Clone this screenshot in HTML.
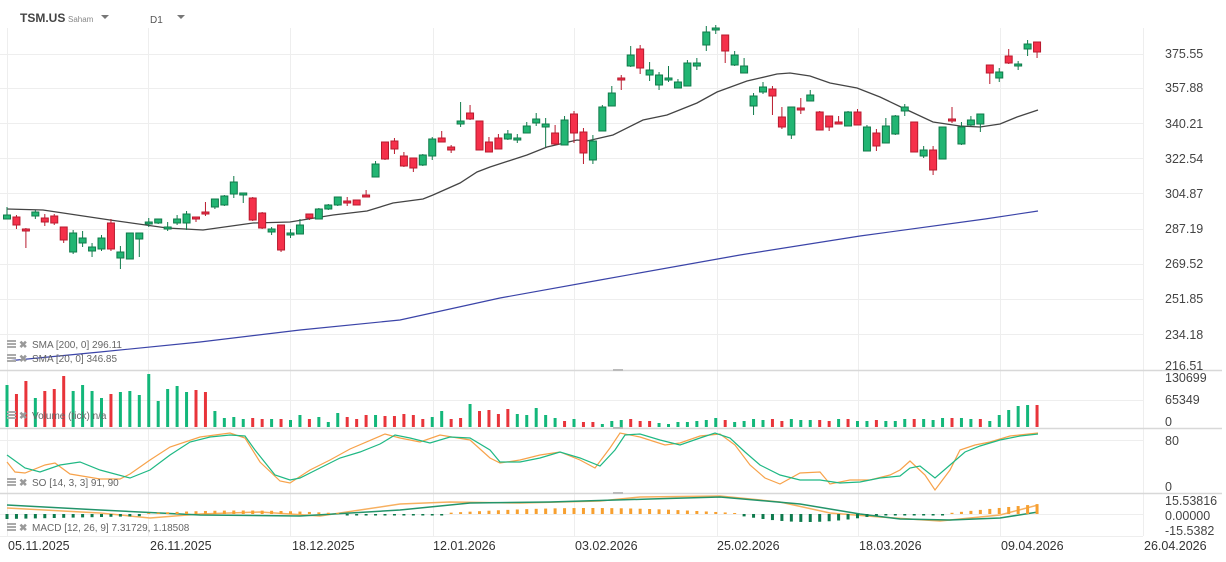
<!DOCTYPE html>
<html><head><meta charset="utf-8"><style>
html,body{margin:0;padding:0;background:#fff;width:1226px;height:562px;overflow:hidden}
svg{display:block;font-family:"Liberation Sans",sans-serif}
</style></head><body>
<svg id="s" width="1226" height="562" viewBox="0 0 1226 562" xmlns="http://www.w3.org/2000/svg">
<g stroke="#eeeeee" stroke-width="1" id="grid"></g>
<g id="lines"></g>
<g id="cand"></g>
<g id="txt"></g>
</svg>
<script>
const NS="http://www.w3.org/2000/svg";
function el(p,t,a,txt){const e=document.createElementNS(NS,t);for(const k in a)e.setAttribute(k,a[k]);if(txt!==undefined)e.textContent=txt;document.getElementById(p).appendChild(e);return e;}
// grid
[54,88,123,158,193,229,264,299,334].forEach(y=>el('grid','line',{x1:0,x2:1143,y1:y+.5,y2:y+.5}));
[400,440,514,536].forEach(y=>el('grid','line',{x1:0,x2:1143,y1:y+.5,y2:y+.5}));
[7,148,290,433,574,717,858,1000,1143].forEach(x=>el('grid','line',{x1:x+.5,x2:x+.5,y1:28,y2:536}));
[370,428,493].forEach(y=>el('lines','line',{x1:0,x2:1222,y1:y+.5,y2:y+.5,stroke:'#d8d8d8','stroke-width':1.5}));
[370,428,493].forEach(y=>el('lines','rect',{x:613,y:y-1,width:10,height:2,fill:'#bbb'}));
// SMA200
el('lines','polyline',{points:'7,361 100,352 200,342 300,330 400,320 500,298 600,280 740,255 860,236 985,219 1038,211',fill:'none',stroke:'#3b44a8','stroke-width':1.2});
// SMA20
el('lines','polyline',{points:'7,209 43,210 110,220 167,228 203,230 253,223 290,222 333,215 367,211 393,203 423,199 433,195 460,183 477,172 490,167 527,155 547,147 577,140 587,141 613,135 643,120 667,115 697,103 717,92 747,81 760,78 777,74 790,73 810,76 830,83 857,88 880,97 903,108 933,122 960,126 980,127 1000,124 1017,117 1038,110',fill:'none',stroke:'#444','stroke-width':1.3});
// candles: [bodyTop, bodyBot, wickTop, wickBot, g/r]
const C=[[215,219,207,219,'g'],[217,225,215,229,'r'],[229,231,228,248,'r'],[212,216,210,219,'g'],[218,222,214,226,'r'],[216,223,214,225,'r'],[227,240,227,243,'r'],[233,252,230,254,'g'],[238,243,231,247,'g'],[247,251,243,257,'g'],[238,249,235,251,'g'],[223,249,219,251,'r'],[252,258,246,269,'g'],[233,259,233,259,'g'],[233,239,233,257,'g'],[222,224,218,227,'g'],[219,223,219,224,'g'],[227,229,222,231,'g'],[219,223,215,225,'g'],[214,223,211,230,'g'],[217,219,217,222,'r'],[212,214,202,216,'r'],[199,207,199,209,'g'],[196,205,195,206,'g'],[182,194,176,198,'g'],[193,195,193,203,'g'],[198,220,197,221,'r'],[213,228,212,229,'r'],[229,232,227,235,'g'],[225,250,225,252,'r'],[233,235,229,238,'g'],[225,234,219,234,'g'],[214,218,214,220,'r'],[209,219,208,219,'g'],[205,209,204,210,'g'],[197,205,197,206,'g'],[201,203,197,206,'r'],[200,205,200,205,'r'],[195,197,190,197,'r'],[164,177,161,177,'g'],[142,159,142,160,'r'],[141,149,138,154,'r'],
[156,166,152,167,'r'],[158,168,158,172,'r'],[155,165,154,166,'g'],[139,156,137,160,'g'],[138,142,131,142,'r'],[147,150,145,153,'r'],[121,124,102,127,'g'],[113,119,105,120,'r'],[121,150,121,150,'r'],[142,152,137,152,'r'],[138,149,134,149,'r'],[134,139,130,140,'g'],[138,140,134,143,'g'],[126,133,122,133,'g'],[119,123,113,126,'g'],[124,127,118,147,'g'],[133,144,125,145,'r'],[120,145,116,145,'g'],[114,133,111,143,'r'],[132,153,128,164,'r'],[141,160,135,164,'g'],[107,131,105,131,'g'],[93,106,86,106,'g'],[78,80,75,90,'r'],[55,66,46,67,'g'],[49,68,45,74,'r'],[70,75,62,81,'g'],[75,85,72,90,'g'],[78,80,66,82,'g'],[82,88,79,88,'g'],[63,86,60,86,'g'],[63,66,58,70,'g'],[32,45,26,51,'g'],[28,30,25,34,'g'],[35,51,35,63,'r'],[55,65,51,66,'g'],[66,73,58,73,'g'],[96,106,93,115,'g'],
[87,92,82,94,'g'],[89,96,86,115,'r'],[117,127,107,129,'r'],[107,135,107,139,'g'],[108,110,98,114,'r'],[95,101,90,101,'g'],[112,130,111,130,'r'],[116,127,116,131,'r'],[122,124,116,124,'r'],[112,126,111,126,'g'],[112,125,109,125,'r'],[127,151,125,151,'g'],[133,146,129,151,'r'],[126,143,118,143,'g'],[116,134,115,135,'g'],[107,111,104,116,'g'],[122,152,122,152,'r'],[150,156,146,158,'g'],[150,170,146,175,'r'],[127,159,127,159,'g'],[119,121,107,123,'r'],[127,144,122,145,'g'],[120,125,116,126,'g'],[114,124,114,132,'g'],[65,73,65,84,'r'],[72,78,68,82,'g'],[56,63,49,64,'r'],[64,66,61,70,'g'],[44,49,40,56,'g'],[42,52,42,58,'r']];
const X=i=>7+i*9.45;
C.forEach((c,i)=>{const x=X(i);const g=c[4]=='g';
 const fill=g?'#22b573':'#f5304a', st=g?'#0f7a4a':'#b81a2e';
 el('cand','line',{x1:x,x2:x,y1:c[2],y2:c[3],stroke:st,'stroke-width':1});
 el('cand','rect',{x:x-3.5,y:c[0],width:7,height:Math.max(c[1]-c[0],1.5),fill:fill,stroke:st,'stroke-width':1});});
// volume
const V=[[385,'g'],[394,'r'],[381,'r'],[398,'g'],[391,'r'],[389,'r'],[376,'r'],[391,'g'],[385,'g'],[391,'g'],[398,'g'],[394,'r'],[392,'g'],[391,'g'],[395,'g'],[374,'g'],[401,'g'],[389,'g'],[386,'g'],[392,'g'],[390,'r'],[392,'r'],[411,'g'],[418,'g'],[417,'g'],[419,'g'],[418,'r'],[419,'r'],[419,'g'],[419,'r'],[420,'g'],[415,'g'],[419,'r'],[417,'g'],[422,'g'],[413,'g'],[417,'r'],[419,'r'],[415,'r'],[415,'g'],[416,'r']];
const V2=[[416,'r'],[414,'r'],[415,'r'],[419,'r'],[417,'g'],[411,'g'],[419,'r'],[418,'r'],[404,'g'],[411,'r'],[410,'r'],[414,'r'],[409,'r'],[414,'g'],[415,'g'],[408,'g'],[415,'g'],[418,'g'],[421,'r'],[419,'g'],[422,'r'],[422,'r'],[424,'g'],[421,'g'],[420,'g'],[419,'r'],[421,'r'],[421,'r'],[423,'g'],[424,'g'],[422,'g'],[422,'g'],[421,'g'],[420,'g'],[418,'g'],[420,'r'],[422,'g'],[421,'g'],[419,'g'],[420,'g'],[419,'r'],[421,'r'],[419,'g'],[420,'g'],[420,'g'],[420,'r'],[421,'r'],[419,'g'],[419,'r'],[421,'g'],[421,'g'],[420,'r'],[421,'g'],[421,'g'],[419,'g'],[419,'r'],[419,'g'],[420,'g'],[418,'g'],[418,'r'],[418,'g'],[419,'g'],[419,'r'],[421,'g'],[415,'g'],[416,'g'],[413,'r'],[416,'g'],[409,'r']];
const VV=V.concat(V2.slice(0,110-V.length-4)).concat([[410,'g'],[406,'g'],[405,'g'],[405,'r']]);
VV.forEach((v,i)=>{if(i>=110)return;el('cand','rect',{x:X(i)-1.5,y:v[0],width:3,height:427-v[0],fill:v[1]=='g'?'#13b77a':'#e8343a'});});
// SO
el('lines','polyline',{points:'7,462 15,472 25,473 45,465 55,463 70,474 100,479 120,479 130,474 150,460 170,447 200,437 230,433 245,438 260,462 280,481 290,483 310,470 330,460 350,449 385,434 400,438 420,442 440,435 470,440 490,458 500,463 520,460 540,455 560,452 580,460 595,468 610,448 620,433 640,437 665,445 680,443 700,436 720,434 735,445 750,465 765,478 780,484 800,473 820,472 830,484 850,480 870,480 890,475 900,470 910,461 925,475 935,490 950,470 960,450 975,445 990,442 1010,436 1038,433',fill:'none',stroke:'#f7a24a','stroke-width':1.2});
el('lines','polyline',{points:'7,455 25,468 40,472 60,465 80,462 100,470 130,478 150,470 170,455 190,442 210,437 230,435 245,436 255,450 275,475 290,480 300,478 320,468 340,458 360,452 380,444 395,435 410,438 430,443 450,437 470,438 490,450 500,462 520,462 540,458 560,452 580,458 600,466 615,450 625,435 640,434 660,440 680,445 700,438 715,433 730,438 745,452 760,465 780,475 800,480 820,480 840,483 860,482 880,478 900,476 910,468 920,466 935,478 950,465 965,452 980,446 1000,440 1020,436 1038,434',fill:'none',stroke:'#1fb884','stroke-width':1.2});
// MACD histogram
for(let i=0;i<110;i++){const x=X(i);let h;
 if(x<140)h=5-i*0.2; else if(x<345)h=-(Math.sin((x-140)/205*Math.PI)*3+0.5); else if(x<445)h=1.5;
 else if(x<735)h=-(Math.sin((x-445)/290*Math.PI)*5+1); else if(x<880)h=Math.sin((x-735)/145*Math.PI)*7+1; else if(x<950)h=1.5;
 else h=-(x-950)/88*9-1;
 const pos=h<0; const y=pos?514+h:514; el('cand','rect',{x:x-1.5,y:y,width:3,height:Math.abs(h),fill:pos?'#f7a030':'#0d7a4c'});}
el('lines','polyline',{points:'7,508 100,513 150,518 200,514 260,512 320,516 400,504 450,502 520,503 600,501 640,497 720,496 780,502 830,513 880,517 940,521 1000,515 1038,505',fill:'none',stroke:'#f7b060','stroke-width':1.5});
el('lines','polyline',{points:'7,505 100,510 200,515 300,516 400,510 470,503 550,502 650,499 720,497 800,504 860,514 900,519 950,520 1000,518 1038,512',fill:'none',stroke:'#23946a','stroke-width':1.5});
// axis labels
const L=[['375.55',58],['357.88',92],['340.21',128],['322.54',163],['304.87',198],['287.19',233],['269.52',268],['251.85',303],['234.18',339],['216.51',370],['130699',382],['65349',404],['0',426],['80',445],['0',491],['15.53816',505],['0.00000',520],['-15.5382',535]];
L.forEach(l=>el('txt','text',{x:1165,y:l[1],'font-size':12.5,fill:'#444'},l[0]));
const D=[['05.11.2025',8],['26.11.2025',150],['18.12.2025',292],['12.01.2026',433],['03.02.2026',575],['25.02.2026',717],['18.03.2026',859],['09.04.2026',1001],['26.04.2026',1144]];
D.forEach(d=>el('txt','text',{x:d[1],y:550,'font-size':12.5,fill:'#333'},d[0]));
// legend labels
[['SMA [200, 0] 296.11',348],['SMA [20, 0] 346.85',362],['Volume (tick) n/a',419],['SO [14, 3, 3] 91, 90',486],['MACD [12, 26, 9] 7.31729, 1.18508',531]].forEach(l=>{
 el('txt','rect',{x:7,y:l[1]-8,width:9,height:2,fill:'#aaa'});el('txt','rect',{x:7,y:l[1]-5,width:9,height:2,fill:'#aaa'});el('txt','rect',{x:7,y:l[1]-2,width:9,height:2,fill:'#aaa'});
 el('txt','text',{x:19,y:l[1],'font-size':10,fill:'#999','font-weight':'bold'},'✖');
 el('txt','text',{x:32,y:l[1],'font-size':10,fill:'#666'},l[0]);});
el('txt','text',{x:20,y:22,'font-size':12,'font-weight':'bold',fill:'#444'},'TSM.US');
el('txt','text',{x:68,y:22,'font-size':8,fill:'#888'},'Saham');
el('txt','path',{d:'M101,15 L109,15 L105,19 Z',fill:'#777'});
el('txt','text',{x:150,y:23,'font-size':10,fill:'#555'},'D1');
el('txt','path',{d:'M177,15 L185,15 L181,19 Z',fill:'#777'});
</script>
</body></html>
